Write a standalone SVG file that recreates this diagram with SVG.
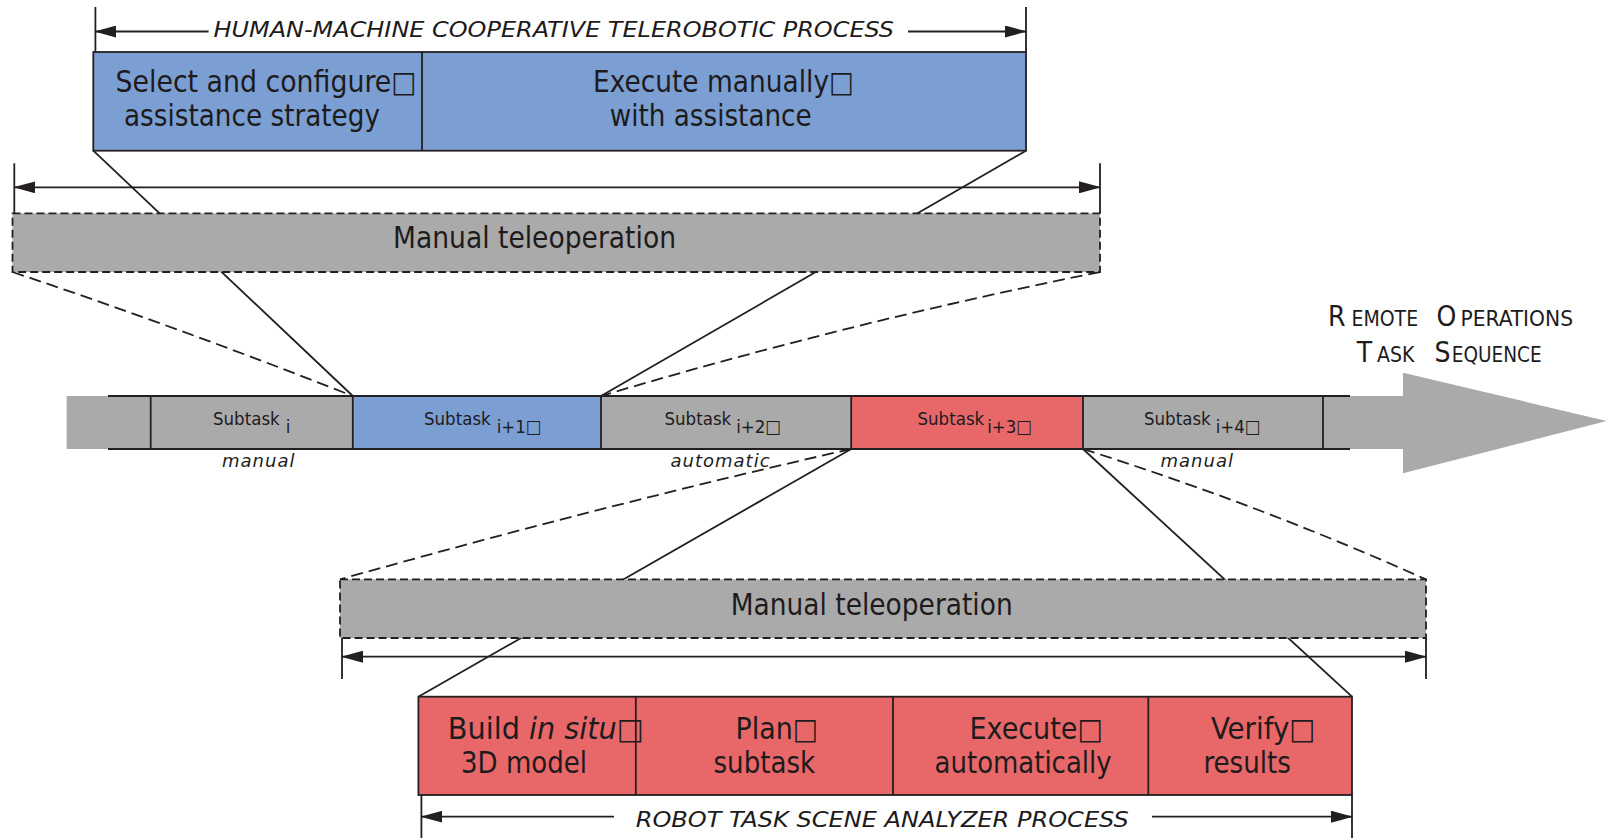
<svg xmlns="http://www.w3.org/2000/svg" width="1608" height="838" viewBox="0 0 1608 838">
  <style>
    .ln { stroke: #231f20; stroke-width: 1.8; fill: none; }
    .dash { stroke: #231f20; stroke-width: 1.8; fill: none; stroke-dasharray: 12 6; }
    .box { stroke: #231f20; stroke-width: 1.8; }
    .dbox { fill: #aaaaaa; stroke: #231f20; stroke-width: 1.8; stroke-dasharray: 8 4; }
    .blue { fill: #7b9fd3; }
    .red { fill: #e8686a; }
    .gray { fill: #aaaaaa; }
    .t { font-family: 'DejaVu Sans Condensed', 'DejaVu Sans', sans-serif; fill: #1e1b1c; }
    .big { font-size: 29.5px; }
    .sub { font-size: 18.5px; }
    .cap { font-size: 21px; font-style: italic; }
    .mode { font-family: 'DejaVu Sans', sans-serif; font-size: 18px; font-style: italic; letter-spacing: 1px; fill: #1e1b1c; }
  </style>
  <defs>
    <marker id="arr" markerUnits="userSpaceOnUse" markerWidth="22" markerHeight="12" refX="21" refY="6" orient="auto-start-reverse">
      <path d="M0,0 L22,6 L0,12 Z" fill="#231f20"/>
    </marker>
  </defs>

  <!-- connectors: solid zoom lines and dashed projection lines -->
  <g id="connectors">
    <line class="ln" x1="93.3" y1="150.7" x2="352.8" y2="396"/>
    <line class="ln" x1="1026" y1="150.7" x2="601" y2="396"/>
    <line class="ln" x1="851.2" y1="449" x2="418.4" y2="696.7"/>
    <line class="ln" x1="1083" y1="449" x2="1352" y2="696.7"/>
    <path class="dash" d="M12.5,272 Q180,328 352.8,396"/>
    <path class="dash" d="M1100,272 Q850,322 601,396"/>
    <path class="dash" d="M851.2,449 Q600,506 340,579.4"/>
    <path class="dash" d="M1083,449 Q1260,505 1426,579.4"/>
  </g>

  <!-- dimension lines -->
  <g id="dimensions">
    <line class="ln" x1="95.4" y1="7" x2="95.4" y2="52"/>
    <line class="ln" x1="1026" y1="7" x2="1026" y2="52"/>
    <line class="ln" x1="95.4" y1="31.5" x2="208.6" y2="31.5" marker-start="url(#arr)"/>
    <line class="ln" x1="908" y1="31.5" x2="1026" y2="31.5" marker-end="url(#arr)"/>
    <text class="t cap" x="213.5" y="37" textLength="680.5" lengthAdjust="spacingAndGlyphs">HUMAN-MACHINE COOPERATIVE TELEROBOTIC PROCESS</text>

    <line class="ln" x1="14.3" y1="163.3" x2="14.3" y2="213.3"/>
    <line class="ln" x1="1100" y1="163.3" x2="1100" y2="213.3"/>
    <line class="ln" x1="14.3" y1="187.3" x2="1100" y2="187.3" marker-start="url(#arr)" marker-end="url(#arr)"/>

    <line class="ln" x1="342" y1="638" x2="342" y2="679"/>
    <line class="ln" x1="1426" y1="638" x2="1426" y2="679"/>
    <line class="ln" x1="342" y1="656.7" x2="1426" y2="656.7" marker-start="url(#arr)" marker-end="url(#arr)"/>

    <line class="ln" x1="421.4" y1="795" x2="421.4" y2="838"/>
    <line class="ln" x1="1352" y1="795" x2="1352" y2="838"/>
    <line class="ln" x1="421.4" y1="816.7" x2="614" y2="816.7" marker-start="url(#arr)"/>
    <line class="ln" x1="1152" y1="816.7" x2="1352" y2="816.7" marker-end="url(#arr)"/>
    <text class="t cap" x="635.7" y="826.7" textLength="493" lengthAdjust="spacingAndGlyphs">ROBOT TASK SCENE ANALYZER PROCESS</text>
  </g>

  <!-- cooperative process box -->
  <g id="cooperative-process">
    <rect class="box blue" x="93.3" y="52" width="932.7" height="98.7"/>
    <line class="ln" x1="422" y1="52" x2="422" y2="150.7"/>
    <text class="t big" x="115.5" y="92" textLength="301" lengthAdjust="spacingAndGlyphs">Select and configure□</text>
    <text class="t big" x="124" y="126" textLength="256" lengthAdjust="spacingAndGlyphs">assistance strategy</text>
    <text class="t big" x="593" y="92" textLength="261" lengthAdjust="spacingAndGlyphs">Execute manually□</text>
    <text class="t big" x="609.7" y="126" textLength="202" lengthAdjust="spacingAndGlyphs">with assistance</text>
  </g>

  <!-- manual teleoperation (upper) -->
  <g id="manual-teleop-upper">
    <rect class="dbox" x="12.5" y="213.3" width="1087.5" height="58.7"/>
    <text class="t big" x="393" y="248.3" textLength="283" lengthAdjust="spacingAndGlyphs">Manual teleoperation</text>
  </g>

  <!-- task sequence arrow -->
  <g id="task-sequence">
    <rect class="gray" x="66.7" y="396" width="1340" height="53"/>
    <polygon class="gray" points="1403,372.7 1606.7,421 1403,473.3"/>
    <rect class="box blue" x="352.8" y="396" width="248.2" height="53"/>
    <rect class="box red" x="851.2" y="396" width="231.8" height="53"/>
    <line class="ln" x1="108" y1="396" x2="1350" y2="396"/>
    <line class="ln" x1="108" y1="449" x2="1350" y2="449"/>
    <line class="ln" x1="150.7" y1="396" x2="150.7" y2="449"/>
    <line class="ln" x1="1323" y1="396" x2="1323" y2="449"/>
    <text class="t" x="1328" y="326"><tspan font-size="28">R</tspan><tspan x="1351.5" font-size="21">EMOTE </tspan><tspan x="1436.5" font-size="28">O</tspan><tspan x="1460.5" font-size="21" textLength="112.5" lengthAdjust="spacingAndGlyphs">PERATIONS</tspan></text>
    <text class="t" x="1356.7" y="361.7"><tspan font-size="28">T</tspan><tspan x="1377" font-size="21">ASK </tspan><tspan x="1434.5" font-size="28">S</tspan><tspan x="1451.7" font-size="21" textLength="90" lengthAdjust="spacingAndGlyphs">EQUENCE</tspan></text>
  </g>

  <g id="subtask-i">
    <text class="t sub" x="213" y="425">Subtask<tspan dx="6" dy="8">i</tspan></text>
    <text class="mode" x="222" y="466.5">manual</text>
  </g>
  <g id="subtask-i1">
    <text class="t sub" x="424" y="425">Subtask<tspan dx="6" dy="8">i+1□</tspan></text>
  </g>
  <g id="subtask-i2">
    <text class="t sub" x="664.5" y="425">Subtask<tspan dx="5" dy="8">i+2□</tspan></text>
    <text class="mode" x="670.5" y="466.5">automatic</text>
  </g>
  <g id="subtask-i3">
    <text class="t sub" x="917.5" y="425">Subtask<tspan dx="3" dy="8">i+3□</tspan></text>
  </g>
  <g id="subtask-i4">
    <text class="t sub" x="1144" y="425">Subtask<tspan dx="5" dy="8">i+4□</tspan></text>
    <text class="mode" x="1160.5" y="466.5">manual</text>
  </g>

  <!-- manual teleoperation (lower) -->
  <g id="manual-teleop-lower">
    <rect class="dbox" x="340" y="579.4" width="1086" height="58.6"/>
    <text class="t big" x="730.7" y="614.9" textLength="282" lengthAdjust="spacingAndGlyphs">Manual teleoperation</text>
  </g>

  <!-- scene analyzer process box -->
  <g id="scene-analyzer-process">
    <rect class="box red" x="418.4" y="696.7" width="933.6" height="98.3"/>
    <line class="ln" x1="635.8" y1="696.7" x2="635.8" y2="795"/>
    <line class="ln" x1="893" y1="696.7" x2="893" y2="795"/>
    <line class="ln" x1="1148.3" y1="696.7" x2="1148.3" y2="795"/>
    <text class="t big" x="447.8" y="739" textLength="196" lengthAdjust="spacingAndGlyphs">Build <tspan font-style="italic">in situ</tspan>□</text>
    <text class="t big" x="461" y="773" textLength="126" lengthAdjust="spacingAndGlyphs">3D model</text>
    <text class="t big" x="735.6" y="739" textLength="82.6" lengthAdjust="spacingAndGlyphs">Plan□</text>
    <text class="t big" x="713.5" y="773" textLength="101.7" lengthAdjust="spacingAndGlyphs">subtask</text>
    <text class="t big" x="969.5" y="739" textLength="133.5" lengthAdjust="spacingAndGlyphs">Execute□</text>
    <text class="t big" x="934.6" y="773" textLength="177" lengthAdjust="spacingAndGlyphs">automatically</text>
    <text class="t big" x="1211" y="739" textLength="104.5" lengthAdjust="spacingAndGlyphs">Verify□</text>
    <text class="t big" x="1203.4" y="773" textLength="87.6" lengthAdjust="spacingAndGlyphs">results</text>
  </g>
</svg>
